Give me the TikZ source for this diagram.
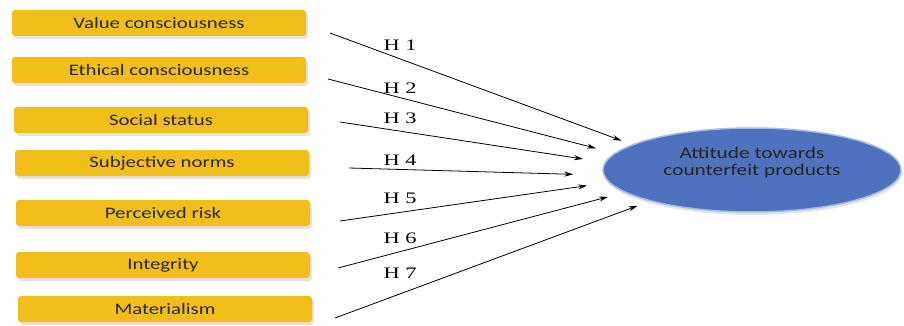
\documentclass[tikz,border=0pt]{standalone}
\usepackage{fontspec}
\usepackage{tikz}
\usetikzlibrary{shapes,arrows.meta,positioning,shadows}
\newfontfamily\boxfont[FakeStretch=1.3]{Carlito}
\newfontfamily\hypfont[FakeStretch=1.4]{Liberation Serif}
\definecolor{boxyellow}{RGB}{242,190,26}
\definecolor{ovalblue}{RGB}{79,114,190}
\definecolor{ovaledge}{RGB}{165,188,226}

\begin{document}
\begin{tikzpicture}[x=1pt,y=-1pt,
    factor/.style={fill=boxyellow, rounded corners=3pt, minimum width=294pt, minimum height=26pt,
        font=\boxfont\fontsize{16}{18}\selectfont, text=black!85,
        drop shadow={shadow xshift=2pt,shadow yshift=-3pt,fill=black!22}},
    hyp/.style={-{Stealth[length=9pt,width=5pt]}, line width=0.8pt},
    hlabel/.style={font=\hypfont\fontsize{16}{18}\selectfont}]
    \useasboundingbox (0,0) rectangle (904,326);

    % Factors
    \node[factor] (value) at (159,23) {Value consciousness};
    \node[factor] (ethical) at (159,70) {Ethical consciousness};
    \node[factor] (social) at (161,120) {Social status};
    \node[factor] (norms) at (162,163) {Subjective norms};
    \node[factor] (risk) at (163,213) {Perceived risk};
    \node[factor] (integrity) at (163,265) {Integrity};
    \node[factor] (material) at (165,309) {Materialism};

    % Attitude
    \node[ellipse, fill=ovalblue, draw=ovaledge, line width=1.5pt, minimum width=298pt, minimum height=84pt,
        inner sep=0pt, align=center, text=black!85, text depth=17pt, font=\boxfont\fontsize{16.4}{17}\selectfont,
        drop shadow={shadow xshift=1pt,shadow yshift=-3pt,fill=black!20}]
        (att) at (752,170) {Attitude towards\\counterfeit products};

    % Hypotheses
    \coordinate (s1) at (330,33);
    \coordinate (s2) at (328,79);
    \coordinate (s3) at (340,122);
    \coordinate (s4) at (349,168);
    \coordinate (s5) at (340,221);
    \coordinate (s6) at (338,268);
    \coordinate (s7) at (335,318);
    \draw[hyp, shorten >=11pt] (s1) -- (att.168);
    \draw[hyp, shorten >=19pt] (s2) -- (att.173);
    \draw[hyp, shorten >=22pt] (s3) -- (att.177);
    \draw[hyp, shorten >=30pt] (s4) -- (att.182);
    \draw[hyp, shorten >=22pt] (s5) -- (att.185);
    \draw[hyp, shorten >=17pt] (s6) -- (att.190);
    \draw[hyp, shorten >=13pt] (s7) -- (att.197);

    \node[hlabel] (h1) at (400,45) {H 1};
    \node[hlabel] (h2) at (400,88) {H 2};
    \node[hlabel] (h3) at (400,118) {H 3};
    \node[hlabel] (h4) at (400,160) {H 4};
    \node[hlabel] (h5) at (400,198) {H 5};
    \node[hlabel] (h6) at (400,238) {H 6};
    \node[hlabel] (h7) at (400,273) {H 7};
\end{tikzpicture}
\end{document}
